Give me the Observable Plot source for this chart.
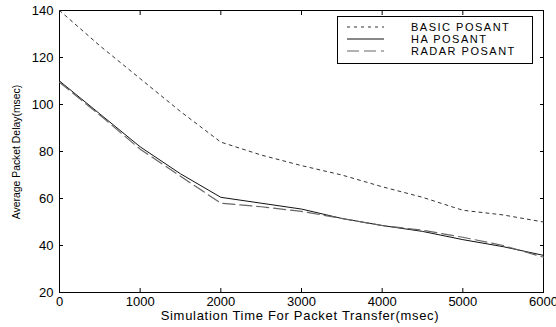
<!DOCTYPE html>
<html>
<head>
<meta charset="utf-8">
<script src="https://cdn.jsdelivr.net/npm/d3@7"></script>
<script src="https://cdn.jsdelivr.net/npm/@observablehq/plot@0.6"></script>
<style>
  html, body { margin: 0; padding: 0; background: #fff; }
  #chart { position: relative; width: 556px; height: 327px; }
</style>
</head>
<body>
<div id="chart"></div>
<script>
const times = [0, 500, 1000, 1500, 2000, 2500, 3000, 3500, 4000, 4500, 5000, 5500, 6000];
const basicPosant = [140, 125, 111, 97, 84, 78.5, 74, 70, 65, 60.5, 55, 53, 50];
const haPosant    = [110, 96, 82, 70.5, 60.5, 58, 55.5, 51.5, 48.5, 46, 42.5, 39.5, 35.8];
const radarPosant = [109.5, 95.5, 81, 69.5, 58, 56.5, 54.5, 51.5, 48.5, 46.5, 43.5, 40, 35];
const seriesNames = ["BASIC POSANT", "HA POSANT", "RADAR POSANT"];
const xTicks = [0, 1000, 2000, 3000, 4000, 5000, 6000];
const yTicks = [20, 40, 60, 80, 100, 120, 140];

const styles = {
  "BASIC POSANT": {stroke: "#333", dash: "3,4", width: 1},
  "HA POSANT": {stroke: "#111", dash: null, width: 1},
  "RADAR POSANT": {stroke: "#666", dash: "12,5", width: 1.2}
};

const seriesValues = [basicPosant, haPosant, radarPosant];
const data = seriesNames.flatMap((name, i) =>
  times.map((t, j) => ({series: name, time: t, delay: seriesValues[i][j]})));

const font = "'Liberation Sans', Arial, Helvetica, sans-serif";

const lineMarks = seriesNames.map(name =>
  Plot.line(data.filter(d => d.series === name), {
    x: "time", y: "delay",
    stroke: styles[name].stroke,
    strokeWidth: styles[name].width,
    strokeDasharray: styles[name].dash
  }));

const plot = Plot.plot({
  width: 556,
  height: 327,
  marginLeft: 59,
  marginRight: 13,
  marginTop: 10,
  marginBottom: 35,
  style: {fontFamily: font, fontSize: "12px", color: "#000", background: "#fff", overflow: "visible"},
  x: {domain: [0, 6000]},
  y: {domain: [20, 140]},
  marks: [
    Plot.frame({stroke: "#000", strokeWidth: 1}),
    Plot.axisX(xTicks, {anchor: "bottom", tickSize: -4, tickFormat: () => "", label: null}),
    Plot.axisX(xTicks, {anchor: "top", tickSize: -4, tickFormat: () => "", label: null}),
    Plot.axisY(yTicks, {anchor: "left", tickSize: -4, tickFormat: () => "", label: null}),
    Plot.axisY(yTicks, {anchor: "right", tickSize: -4, tickFormat: () => "", label: null}),
    Plot.axisX(xTicks, {anchor: "bottom", tickSize: 0, tickPadding: 4, fontSize: 13,
      tickFormat: d => String(d), label: null}),
    Plot.axisY(yTicks, {anchor: "left", tickSize: 0, tickPadding: 6, fontSize: 13,
      tickFormat: d => String(d), label: null}),
    ...lineMarks
  ]
});

document.getElementById("chart").appendChild(plot);

const svg = d3.select(plot);
// Axis titles
svg.append("text")
  .attr("x", 300).attr("y", 315).attr("dy", "0.35em")
  .attr("text-anchor", "middle").attr("font-family", font).attr("font-size", 13)
  .attr("fill", "#000").attr("letter-spacing", "0.7px")
  .text("Simulation Time For Packet Transfer(msec)");
svg.append("text")
  .attr("transform", "translate(16,152) rotate(-90)").attr("dy", "0.35em")
  .attr("text-anchor", "middle").attr("font-family", font).attr("font-size", 10.4)
  .attr("fill", "#000")
  .text("Average Packet Delay(msec)");

// Legend box (MATLAB style, inside plot area, top-right)
const lg = svg.append("g").attr("font-family", font).attr("font-size", 11)
  .attr("text-anchor", "start").attr("fill", "#000");
const box = {x: 337, y: 16, w: 195, h: 47};
lg.append("rect").attr("x", box.x + 0.5).attr("y", box.y + 0.5).attr("width", box.w).attr("height", box.h)
  .attr("fill", "#fff").attr("stroke", "#000");
seriesNames.forEach((name, i) => {
  const yy = box.y + 11 + i * 12;
  lg.append("line").attr("x1", box.x + 10).attr("x2", box.x + 47).attr("y1", yy).attr("y2", yy)
    .attr("stroke", styles[name].stroke).attr("stroke-width", styles[name].width)
    .attr("stroke-dasharray", styles[name].dash);
  lg.append("text").attr("x", box.x + 74).attr("y", yy).attr("dy", "0.35em")
    .attr("letter-spacing", "1.5px").text(name);
});
</script>
</body>
</html>
